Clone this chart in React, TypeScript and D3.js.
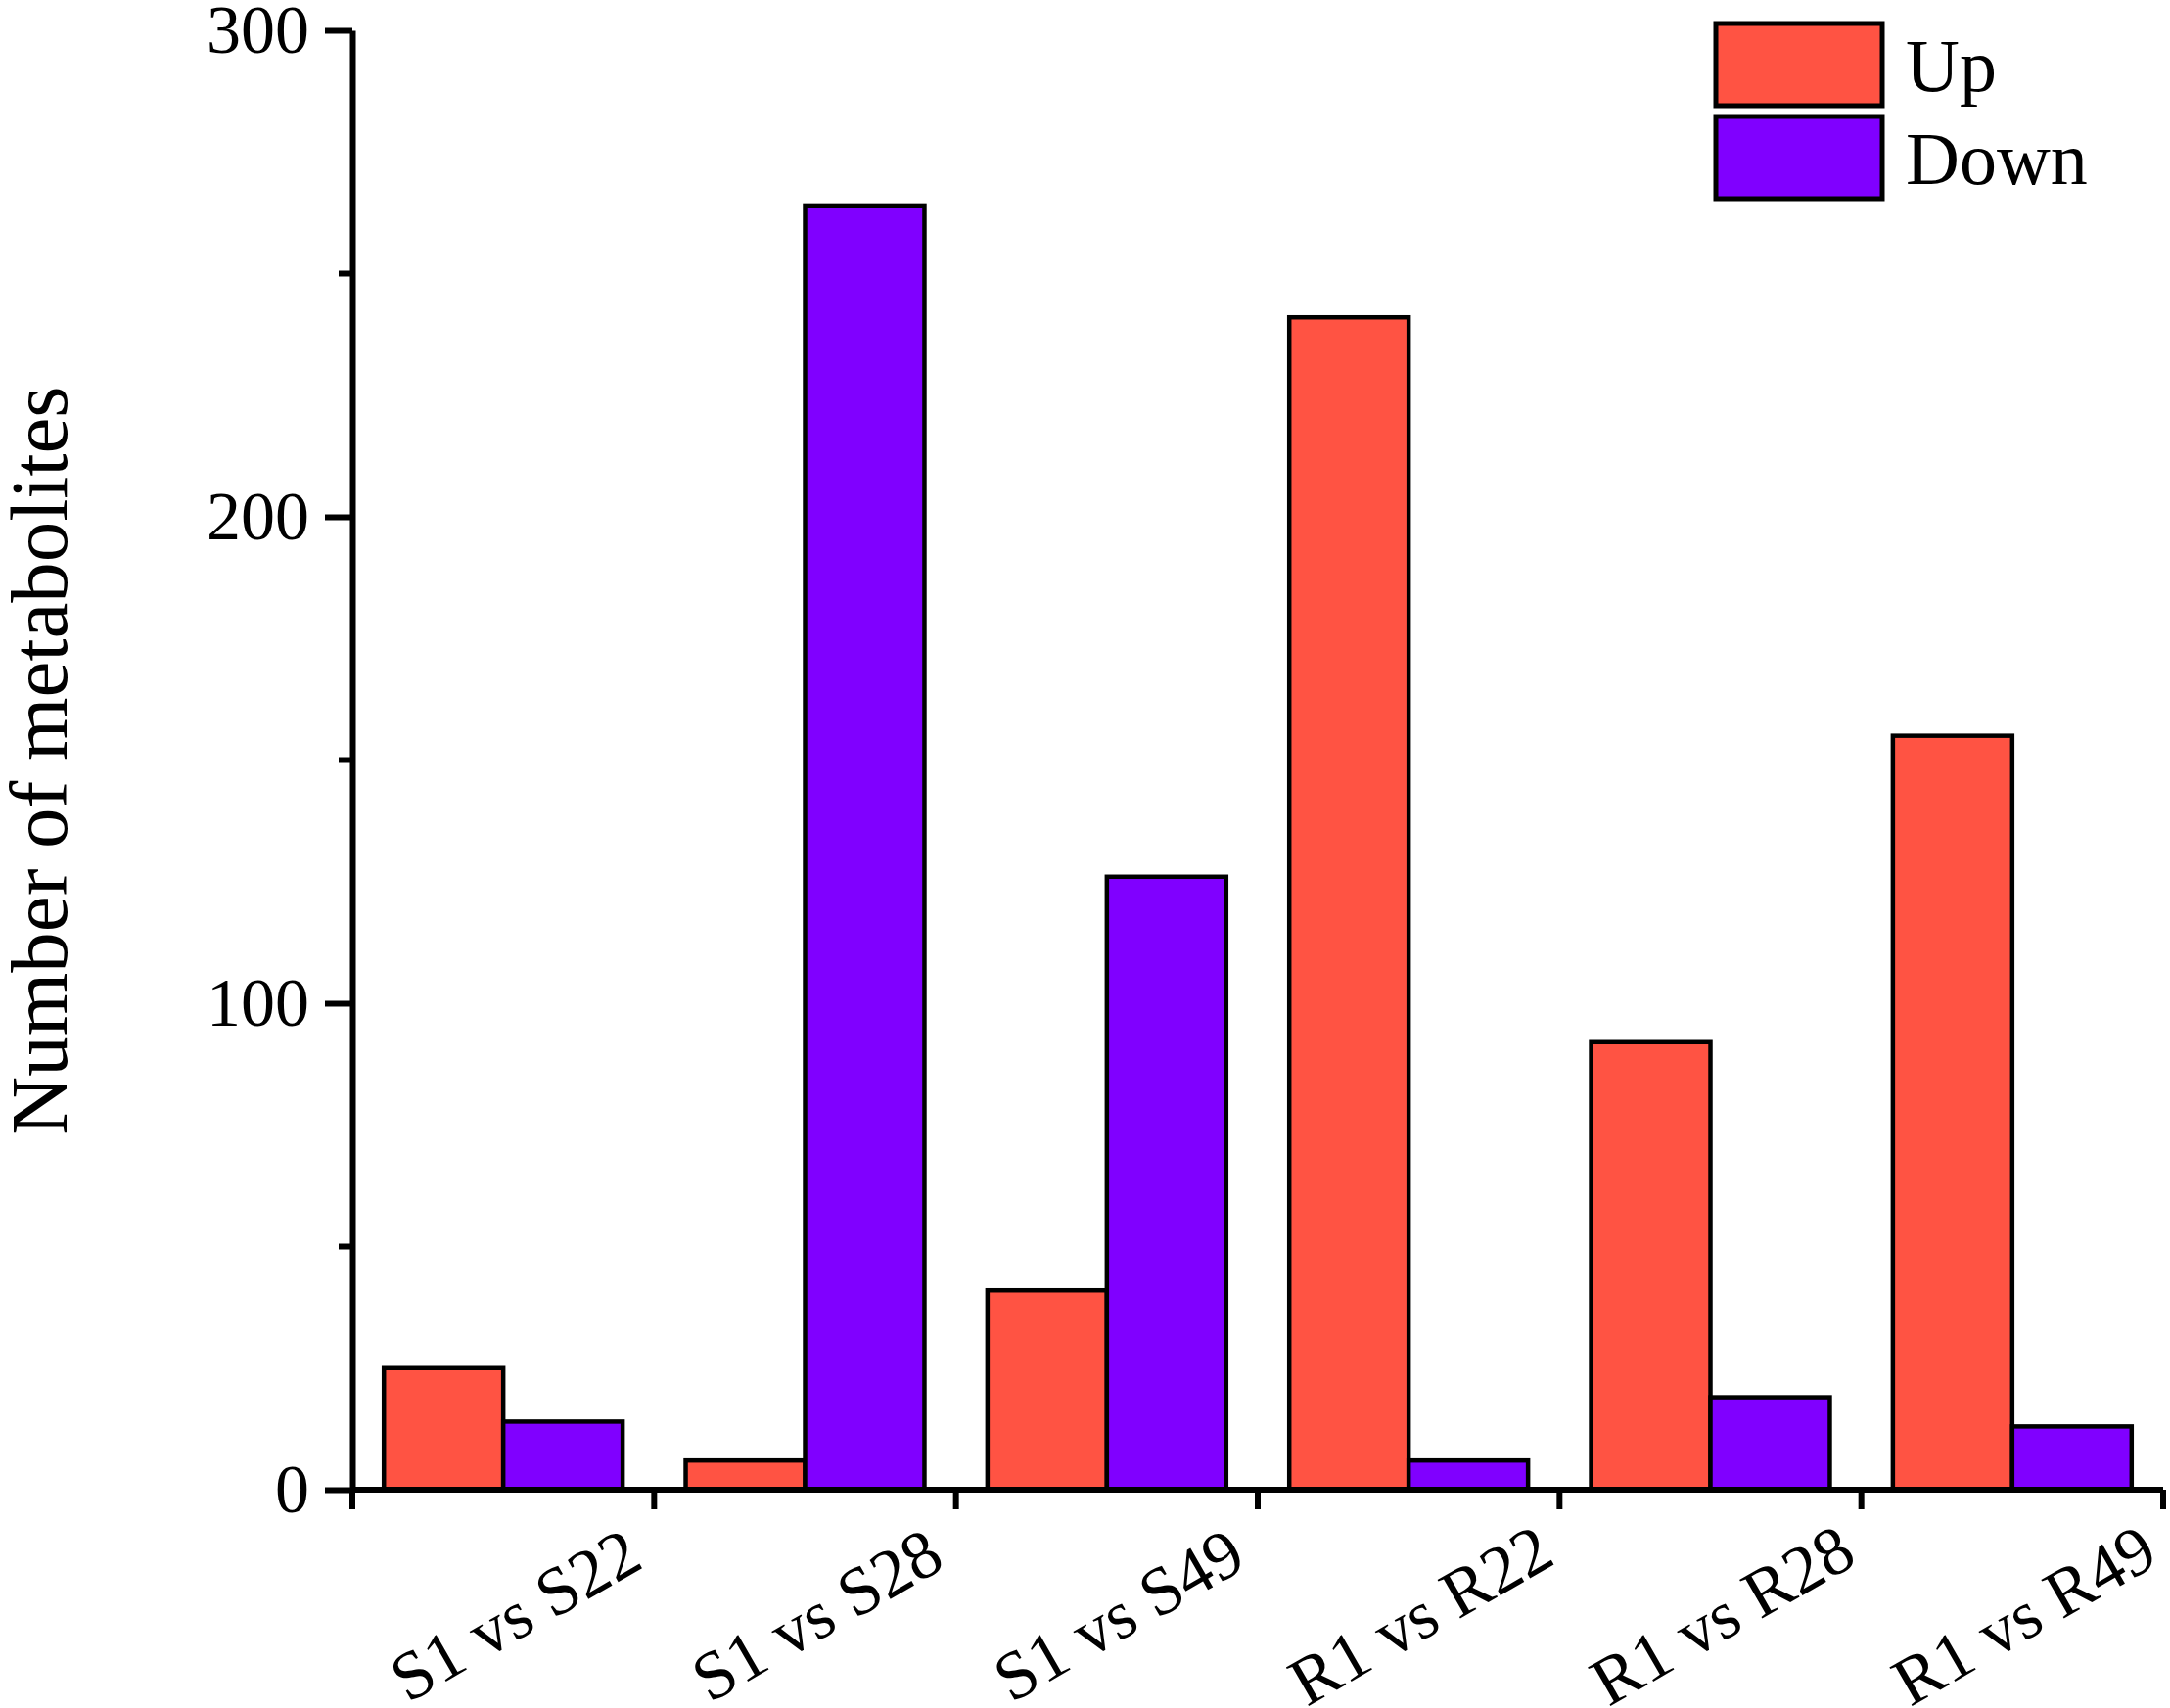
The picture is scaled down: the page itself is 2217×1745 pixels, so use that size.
import { useEffect, useRef } from 'react';
import * as d3 from 'd3';

const categories = ['S1 vs S22', 'S1 vs S28', 'S1 vs S49', 'R1 vs R22', 'R1 vs R28', 'R1 vs R49'];
const seriesNames = ['Up', 'Down'];
const upValues = [25, 6, 41, 241, 92, 155];
const downValues = [14, 264, 126, 6, 19, 13];
const yMajorTicks = [0, 100, 200, 300];
const yMinorTicks = [50, 150, 250];

const colors: Record<string, string> = { Up: '#FF5343', Down: '#8000FF' };

export default function App() {
  const svgRef = useRef<SVGSVGElement>(null);

  useEffect(() => {
    document.body.style.margin = '0';
    if (!svgRef.current) return;

    const width = 2217;
    const height = 1745;
    const left = 360;
    const right = 2210;
    const top = 31;
    const bottom = 1522;
    const font = '"Liberation Serif", "Times New Roman", serif';

    const svg = d3.select(svgRef.current)
      .attr('width', width)
      .attr('height', height);
    svg.selectAll('*').remove();

    svg.append('rect').attr('width', width).attr('height', height).attr('fill', '#ffffff');

    const x = d3.scaleBand<string>()
      .domain(categories)
      .range([left, right]);

    const xInner = d3.scaleBand<string>()
      .domain(seriesNames)
      .range([0, x.bandwidth()])
      .paddingInner(0)
      .paddingOuter(0.264);

    const y = d3.scaleLinear()
      .domain([0, 300])
      .range([bottom, top]);

    // bars
    const rows = categories.map((c, i) => ({ category: c, Up: upValues[i], Down: downValues[i] }));
    const groups = svg.append('g')
      .selectAll('g')
      .data(rows)
      .join('g')
      .attr('transform', d => `translate(${x(d.category)},0)`);

    groups.selectAll('rect')
      .data(d => seriesNames.map(s => ({ s, v: (d as any)[s] as number })))
      .join('rect')
      .attr('x', d => xInner(d.s)!)
      .attr('y', d => y(d.v))
      .attr('width', xInner.bandwidth())
      .attr('height', d => y(0) - y(d.v))
      .attr('fill', d => colors[d.s])
      .attr('stroke', '#000000')
      .attr('stroke-width', 4.5);

    // y axis
    const yAxis = svg.append('g')
      .attr('transform', `translate(${left},0)`)
      .call(d3.axisLeft(y).tickValues(yMajorTicks).tickSize(28).tickSizeOuter(0).tickPadding(16).tickFormat(d3.format('d')));
    yAxis.select('.domain').attr('stroke-width', 6);
    yAxis.selectAll('.tick line').attr('stroke-width', 6);
    yAxis.selectAll('.tick text')
      .attr('font-family', font)
      .attr('font-size', 70)
      .attr('fill', '#000000');

    svg.append('g')
      .attr('transform', `translate(${left},0)`)
      .selectAll('line')
      .data(yMinorTicks)
      .join('line')
      .attr('x1', -14)
      .attr('x2', 0)
      .attr('y1', d => y(d))
      .attr('y2', d => y(d))
      .attr('stroke', '#000000')
      .attr('stroke-width', 6);

    // x axis
    svg.append('line')
      .attr('x1', left)
      .attr('x2', right)
      .attr('y1', bottom)
      .attr('y2', bottom)
      .attr('stroke', '#000000')
      .attr('stroke-width', 6);

    const boundaries = categories.map(c => x(c)!).concat([right]);
    svg.append('g')
      .selectAll('line')
      .data(boundaries)
      .join('line')
      .attr('x1', d => d)
      .attr('x2', d => d)
      .attr('y1', bottom)
      .attr('y2', bottom + 20)
      .attr('stroke', '#000000')
      .attr('stroke-width', 6);

    svg.append('g')
      .selectAll('text')
      .data(categories)
      .join('text')
      .attr('transform', d => `translate(${x(d)! + x.bandwidth() / 2 + 12},${1650}) rotate(-30)`)
      .attr('text-anchor', 'middle')
      .attr('dominant-baseline', 'central')
      .attr('font-family', font)
      .attr('font-size', 70)
      .attr('fill', '#000000')
      .text(d => d);

    // y label
    svg.append('text')
      .attr('transform', `translate(40,${777}) rotate(-90)`)
      .attr('text-anchor', 'middle')
      .attr('dominant-baseline', 'central')
      .attr('font-family', font)
      .attr('font-size', 83)
      .attr('fill', '#000000')
      .text('Number of metabolites');

    // legend
    const legend = svg.append('g').attr('transform', 'translate(1753,24)');
    seriesNames.forEach((s, i) => {
      const g = legend.append('g').attr('transform', `translate(0,${i * 95})`);
      g.append('rect')
        .attr('width', 170)
        .attr('height', 84)
        .attr('fill', colors[s])
        .attr('stroke', '#000000')
        .attr('stroke-width', 5);
      g.append('text')
        .attr('x', 194)
        .attr('y', 69)
        .attr('font-family', font)
        .attr('font-size', 76)
        .attr('fill', '#000000')
        .text(s);
    });
  }, []);

  return <svg ref={svgRef} style={{ display: 'block' }} />;
}
